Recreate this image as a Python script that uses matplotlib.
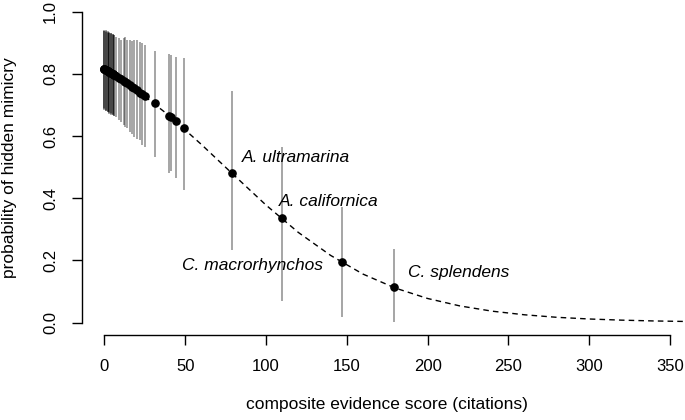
import matplotlib
matplotlib.use("Agg")
import matplotlib.pyplot as plt

plt.rcParams['font.family'] = ['Liberation Sans', 'DejaVu Sans']

# ---- data ----
# composite evidence score (citations) for each species
evidence = [0, 0, 0, 1, 1, 1, 2, 2, 2, 3, 3, 3, 4, 4, 4, 5, 5, 5, 6, 6,
            7, 9, 10, 12, 13, 14, 16, 17, 18, 20, 22, 23, 25,
            31, 40, 41, 44, 49, 79, 110, 147, 179]
# fitted probability of hidden mimicry (points)
prob = [0.815, 0.815, 0.815, 0.812, 0.812, 0.812, 0.809, 0.809, 0.809, 0.806, 0.806, 0.806,
        0.803, 0.803, 0.803, 0.800, 0.800, 0.800, 0.796, 0.796,
        0.793, 0.787, 0.783, 0.777, 0.773, 0.770, 0.763, 0.759, 0.755, 0.748, 0.740, 0.736, 0.729,
        0.705, 0.666, 0.662, 0.649, 0.625, 0.480, 0.335, 0.196, 0.115]
# interval upper / lower ends (vertical bars)
upper = [0.941, 0.938, 0.939, 0.940, 0.936, 0.938, 0.937, 0.933, 0.935, 0.934, 0.930, 0.932,
         0.931, 0.928, 0.930, 0.928, 0.926, 0.927, 0.925, 0.924,
         0.920, 0.915, 0.909, 0.915, 0.920, 0.909, 0.909, 0.906, 0.909, 0.909, 0.903, 0.898, 0.893,
         0.873, 0.864, 0.860, 0.853, 0.850, 0.746, 0.565, 0.372, 0.236]
lower = [0.689, 0.685, 0.687, 0.684, 0.680, 0.682, 0.680, 0.676, 0.678, 0.676, 0.672, 0.674,
         0.673, 0.669, 0.671, 0.670, 0.667, 0.668, 0.665, 0.663,
         0.662, 0.651, 0.646, 0.635, 0.630, 0.625, 0.614, 0.608, 0.598, 0.592, 0.587, 0.571, 0.565,
         0.533, 0.482, 0.487, 0.464, 0.426, 0.232, 0.069, 0.018, 0.002]

# fitted curve (dashed)
curve_x = [0, 20, 40, 60, 80, 100, 120, 140, 160, 180, 200, 220, 240, 260, 280, 300, 320, 340, 360, 380]
curve_y = [0.815, 0.748, 0.666, 0.573, 0.475, 0.378, 0.290, 0.216, 0.156, 0.111, 0.0775, 0.0535,
           0.0366, 0.0250, 0.0169, 0.0115, 0.0078, 0.0052, 0.0035, 0.0024]

# species labels
label_text = ["A. ultramarina", "A. californica", "C. macrorhynchos", "C. splendens"]
label_x = [85.0, 108.2, 48.2, 188.1]
label_y = [0.532, 0.388, 0.184, 0.160]

x_ticks = [0, 50, 100, 150, 200, 250, 300, 350]
y_ticks = [0.0, 0.2, 0.4, 0.6, 0.8, 1.0]

FS = 12.5

# ---- figure ----
fig = plt.figure(figsize=(6.85, 4.2), dpi=100)
ax = fig.add_axes([81.8 / 685, 85 / 420, 610.8 / 685, 335.7 / 420])
ax.set_xlim(-14, 364)
ax.set_ylim(-0.04, 1.04)

ax.vlines(evidence, lower, upper, colors=(0, 0, 0, 0.45), linewidth=1.1, zorder=2)
ax.plot(curve_x, curve_y, color='black', linestyle=(0, (4, 3)), linewidth=1.0, zorder=3)
ax.plot(evidence, prob, 'o', color='black', markersize=5.2, zorder=4)

for t, x, y in zip(label_text, label_x, label_y):
    ax.text(x, y, t, fontsize=FS, style='italic', ha='left', va='center', zorder=5)

for s in ['top', 'right']:
    ax.spines[s].set_visible(False)
ax.spines['left'].set_bounds(0, 1)
ax.spines['bottom'].set_bounds(0, 350)
for s in ['left', 'bottom']:
    ax.spines[s].set_linewidth(1.0)

ax.set_xticks(x_ticks)
ax.set_xticklabels([str(v) for v in x_ticks])
ax.set_yticks(y_ticks)
ax.set_yticklabels([f"{v:.1f}" for v in y_ticks], rotation=90, va='center')
ax.tick_params(axis='both', length=7, width=1.0, labelsize=12, pad=10)

ax.set_xlabel("composite evidence score (citations)", fontsize=FS)
ax.xaxis.set_label_coords(0.5, -0.185)
ax.set_ylabel("probability of hidden mimicry", fontsize=FS)
ax.yaxis.set_label_coords(-0.106, 0.5)

fig.savefig("out.png", dpi=100)
